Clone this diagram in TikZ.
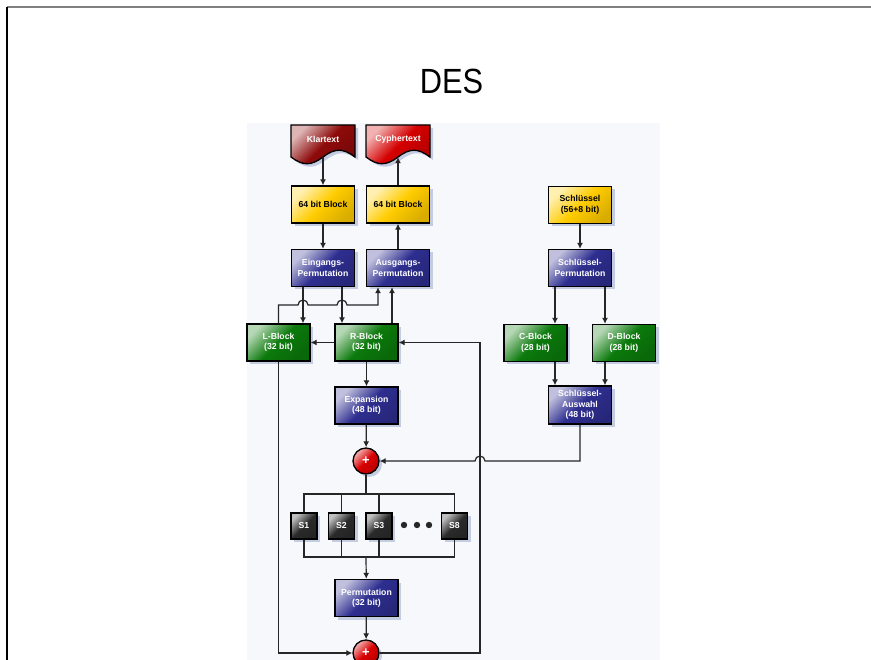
\documentclass[tikz,border=0pt]{standalone}
\usepackage{fontspec}
\setmainfont{Liberation Sans}
\usepackage{graphicx}
\usepackage{tikz}
\usetikzlibrary{arrows.meta, shadows}

\definecolor{panel}{HTML}{F7F8FB}
\definecolor{schatten}{HTML}{BFC8E0}
\definecolor{dunkelrot}{HTML}{8E0A0A}
\definecolor{hellrot}{HTML}{D40000}
\definecolor{gelb}{HTML}{FFCC00}
\definecolor{blau}{HTML}{2E2E90}
\definecolor{gruen}{HTML}{0B7A0B}
\definecolor{sgrau}{HTML}{2A2A2A}

\tikzset{
  box/.style = {rectangle, draw = black, line width = 1.3pt, minimum width = 63pt, minimum height = 37pt,
    inner sep = 2pt, align = center, text = white, font = \fontsize{8.7}{10.5}\selectfont\bfseries,
    drop shadow = {shadow xshift = 3pt, shadow yshift = -3pt, fill = schatten, opacity = 0.9}},
  farbe/.style = {top color = #1!30!white, bottom color = #1!85!black, middle color = #1, shading angle = 45},
  gelbbox/.style = {box, farbe = gelb, text = black},
  blaubox/.style = {box, farbe = blau},
  gruenbox/.style = {box, farbe = gruen},
  sbox/.style = {box, farbe = sgrau, minimum width = 26pt, minimum height = 26pt},
  plus/.style = {circle, draw = black, line width = 1.3pt, minimum size = 26pt, inner sep = 0pt, text = white,
    font = \fontsize{13}{13}\selectfont\bfseries, farbe = red!85!black,
    drop shadow = {shadow xshift = 3pt, shadow yshift = -3pt, fill = schatten, opacity = 0.9}},
  doclabel/.style = {rectangle, minimum width = 64pt, minimum height = 36pt, inner sep = 0pt, text = white,
    font = \fontsize{8.7}{10.5}\selectfont\bfseries},
  lin/.style = {line width = 1.2pt, draw = black!85},
  pfeil/.style = {lin, -{Latex[length = 6pt, width = 6pt]}}
}

\begin{document}
\begin{tikzpicture}[x = 1pt, y = -1pt]
\useasboundingbox (0,0) rectangle (871,660);
\fill[panel] (247,123) rectangle (660,660);
\draw[gray, line width = 2pt] (7,7.5) -- (871,7.5);
\draw[line width = 1.5pt] (7,7) -- (7,660);
\node (titel) at (451.5,81) {\fontsize{35}{35}\selectfont\scalebox{0.88}[1]{DES}};

% Dokumente
\foreach \x/\c in {291/dunkelrot, 366/hellrot}
\shade[farbe = \c, draw = black, line width = 1.3pt,
  drop shadow = {shadow xshift = 3pt, shadow yshift = -3pt, fill = schatten, opacity = 0.9}]
  (\x,125) -- ++(64,0) -- ++(0,32) .. controls +(-12,-9) and +(12,-9) .. ++(-32,0)
  .. controls +(-12,9) and +(12,9) .. ++(-32,0) -- cycle;
\node[doclabel] (klar) at (323,139) {Klartext};
\node[doclabel] (cypher) at (398,139) {Cyphertext};

% Daten
\node[gelbbox] (blockL) at (323,204.5) {64 bit Block};
\node[gelbbox] (blockR) at (398,204.5) {64 bit Block};
\node[blaubox] (eing) at (323,268) {Eingangs-\\Permutation};
\node[blaubox] (ausg) at (398,268) {Ausgangs-\\Permutation};
\node[gruenbox] (lblock) at (278.5,342.5) {L-Block\\(32 bit)};
\node[gruenbox] (rblock) at (366.5,342.5) {R-Block\\(32 bit)};
\node[blaubox] (exp) at (366.5,405.5) {Expansion\\(48 bit)};
\node[plus] (xorA) at (366,461) {+};
\node[sbox] (s1) at (304,526) {S1};
\node[sbox] (s2) at (341.5,526) {S2};
\node[sbox] (s3) at (379,526) {S3};
\node[sbox] (s8) at (454.5,526) {S8};
\foreach \x in {404,417,429}
\fill[black!85] (\x,525) circle (3.2pt);
\node[blaubox] (perm) at (366.5,598) {Permutation\\(32 bit)};
\node[plus] (xorB) at (366,653) {+};

% Schluessel
\node[gelbbox] (key) at (580,205) {Schlüssel\\(56+8 bit)};
\node[blaubox] (keyperm) at (580,268) {Schlüssel-\\Permutation};
\node[gruenbox] (cblock) at (535.5,343) {C-Block\\(28 bit)};
\node[gruenbox] (dblock) at (624,343) {D-Block\\(28 bit)};
\node[blaubox, minimum height = 38pt] (ksel) at (580,405) {Schlüssel-\\Auswahl\\(48 bit)};

\draw[pfeil] (klar.south) -- (blockL);
\draw[pfeil] (blockL) -- (eing);
\draw[pfeil] (ausg) -- (blockR);
\draw[pfeil] (blockR) -- (cypher.south);
\draw[pfeil] ([xshift = -20pt]eing.south) -- ([xshift = 24.5pt]lblock.north);
\draw[pfeil] ([xshift = 19pt]eing.south) -- ([xshift = -24.5pt]rblock.north);
\draw[pfeil] ([xshift = 25.5pt]rblock.north) -- ([xshift = -6pt]ausg.south);
\draw[pfeil] (lblock.north) -- (278.5,305) -- (298,305) arc[start angle = 180, end angle = 0, radius = 5pt]
  -- (337,305) arc[start angle = 180, end angle = 0, radius = 5pt] -- (378,305) -- ([xshift = -20pt]ausg.south);
\draw[pfeil] (rblock) -- (lblock);
\draw[pfeil] (rblock) -- (exp);
\draw[pfeil] (exp) -- (xorA);

\coordinate (busT) at (366,494);
\coordinate (busB) at (366,557);
\draw[lin] (xorA) -- (busT);
\draw[lin] (s1.north) |- (busT) -| (s8.north);
\draw[lin] (s1.south) |- (busB) -| (s8.south);
\foreach \s in {s2,s3} {
\draw[lin] (\s.north) -- (\s.north |- busT);
\draw[lin] (\s.south) -- (\s.south |- busB);
}
\draw[pfeil] (busB) -- (perm);
\draw[pfeil] (perm) -- (xorB);
\draw[pfeil] (lblock.south) |- (xorB.west);
\draw[pfeil] (xorB.east) -| (480,342.5) -- (rblock.east);

\draw[pfeil] (key) -- (keyperm);
\draw[pfeil] ([xshift = -25pt]keyperm.south) -- ([xshift = 19.5pt]cblock.north);
\draw[pfeil] ([xshift = 25pt]keyperm.south) -- ([xshift = -19pt]dblock.north);
\draw[pfeil] ([xshift = 19.5pt]cblock.south) -- ([xshift = -25pt]ksel.north);
\draw[pfeil] ([xshift = -19pt]dblock.south) -- ([xshift = 25pt]ksel.north);
\draw[pfeil] (ksel.south) -- (580,461) -- (485,461) arc[start angle = 0, end angle = 180, radius = 5pt] -- (xorA.east);
\end{tikzpicture}
\end{document}
